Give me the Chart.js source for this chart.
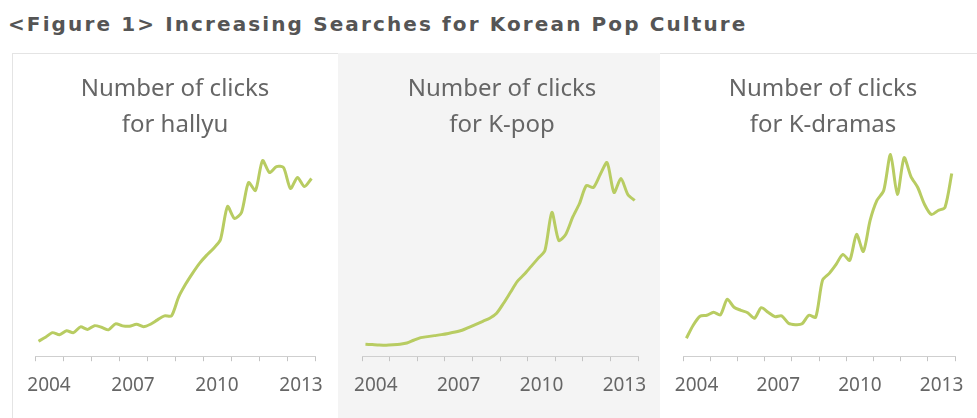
<!DOCTYPE html>
<html>
<head>
<meta charset="utf-8">
<script src="https://cdn.jsdelivr.net/npm/chart.js@4"></script>
<style>
  body { margin: 0; background: #fff; width: 977px; height: 418px; overflow: hidden; position: relative; }
  #title { position: absolute; left: 8px; top: 12px; font: bold 20px "DejaVu Sans", sans-serif; color: #555; white-space: nowrap; }
  #box { position: absolute; left: 12px; top: 53px; width: 975px; height: 370px; border: 1px solid #e4e4e4; }
  .panel { position: absolute; top: 53px; height: 365px; }
  #p1 { left: 12px; width: 326px; }
  #p2 { left: 338px; width: 322px; background: #f4f4f4; }
  #p3 { left: 660px; width: 317px; }
</style>
</head>
<body>
<div id="title">&lt;Figure 1&gt; Increasing Searches for Korean Pop Culture</div>
<div id="box"></div>
<div class="panel" id="p1"><canvas id="c1"></canvas></div>
<div class="panel" id="p2"><canvas id="c2"></canvas></div>
<div class="panel" id="p3"><canvas id="c3"></canvas></div>
<script>
// years on the axis, only some are labelled
const years = ["2004", "2005", "2006", "2007", "2008", "2009", "2010", "2011", "2012", "2013"];
const shownYears = ["2004", "2007", "2010", "2013"];

// quarterly periods of the series
const quarters = [];
years.forEach(y => { ["Q1", "Q2", "Q3", "Q4"].forEach(q => quarters.push(y + " " + q)); });

// search interest, quarterly (relative units)
const hallyu = [7.5, 9.5, 11.8, 10.7, 12.7, 11.8, 14.7, 13.4, 15.3, 14.5,
  13.2, 16.2, 15.2, 15.0, 16.0, 14.8, 16.0, 18.2, 20.2, 20.2,
  29.5, 36, 41.5, 46.5, 50.5, 54, 58.5, 75, 69, 72,
  87, 83, 98, 92, 95, 94.5, 84, 89.5, 85, 89];
const kpop = [6, 5.8, 5.6, 5.5, 5.7, 6.0, 6.6, 8.0, 9.3, 9.8,
  10.3, 10.8, 11.4, 12.1, 13.0, 14.5, 16, 17.5, 19, 21.5,
  26.5, 32, 37.5, 41, 45, 49, 53, 72, 58, 61,
  69.5, 76.5, 85.5, 84.5, 91, 97, 82, 89, 81, 78];
const kdramas = [9, 15.5, 20, 20.5, 22, 20.7, 28.5, 24.5, 23, 21.8,
  19, 24.3, 22, 19.8, 20.2, 16.5, 15.8, 16.2, 20.5, 19.5,
  38, 41.5, 46, 51, 48, 61, 52.5, 68, 78, 83,
  101, 81, 99.5, 90, 84.5, 76, 71, 73, 74.5, 91.5];

const panelTitles = [
  ["Number of clicks", "for hallyu"],
  ["Number of clicks", "for K-pop"],
  ["Number of clicks", "for K-dramas"]
];

// fit the heading to the width it has in the picture
const t = document.getElementById("title");
const extra = 737 - t.offsetWidth;
t.style.letterSpacing = (extra / (t.textContent.length - 1)) + "px";

function makeChart(id, titleLines, values, pad) {
  const ctx = document.getElementById(id).getContext("2d");
  return new Chart(ctx, {
    type: "line",
    data: {
      labels: quarters,
      datasets: [{
        data: values,
        xAxisID: "xq",
        borderColor: "#b8cc62",
        borderWidth: 3,
        pointRadius: 0,
        tension: 0.25,
        fill: false,
        clip: false
      }]
    },
    options: {
      responsive: true,
      maintainAspectRatio: false,
      animation: false,
      events: [],
      layout: { padding: { left: pad[0], right: pad[1], top: 0, bottom: 8 } },
      plugins: {
        legend: { display: false },
        tooltip: { enabled: false },
        title: {
          display: true,
          text: titleLines,
          color: "#666",
          font: { family: "'Noto Sans', sans-serif", size: 24, weight: "normal", lineHeight: 1.47 },
          padding: { top: 19, bottom: 14 }
        }
      },
      scales: {
        x: {
          type: "category",
          labels: years,
          offset: true,
          grid: { offset: true, drawOnChartArea: false, tickLength: 5, color: "#c4c4c4" },
          border: { color: "#cfcfcf" },
          ticks: {
            autoSkip: false,
            maxRotation: 0,
            padding: 13,
            color: "#666",
            font: { family: "'Noto Sans', sans-serif", size: 19 },
            callback: function (v, i) { return shownYears.includes(years[i]) ? years[i] : ""; }
          }
        },
        xq: { type: "category", labels: quarters, offset: true, display: false },
        y: { display: false, min: 0, max: 100 }
      }
    }
  });
}

makeChart("c1", panelTitles[0], hallyu, [23, 23]);
makeChart("c2", panelTitles[1], kpop, [24, 18]);
makeChart("c3", panelTitles[2], kdramas, [23, 14]);
</script>
</body>
</html>
